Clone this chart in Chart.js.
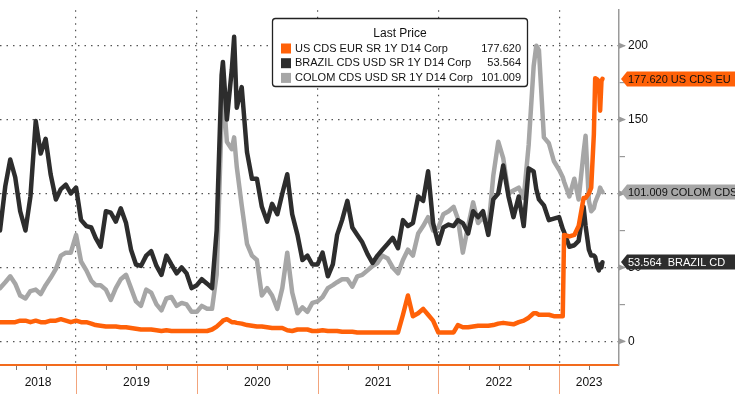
<!DOCTYPE html>
<html>
<head>
<meta charset="utf-8">
<script src="https://cdn.jsdelivr.net/npm/chart.js@4"></script>
<style>
html,body{margin:0;padding:0;background:#fff;}
#wrap{width:735px;height:394px;position:relative;}
</style>
</head>
<body>
<div id="wrap"><canvas id="c"></canvas></div>
<script>
// ---------- data ----------
const dates = [
'2018-05-16','2018-06-01','2018-06-16','2018-07-01','2018-07-16','2018-08-01','2018-08-16','2018-09-01','2018-09-16','2018-10-01','2018-10-16','2018-11-01','2018-11-16','2018-12-01','2018-12-16',
'2019-01-01','2019-01-16','2019-02-01','2019-02-16','2019-03-01','2019-03-16','2019-04-01','2019-04-16','2019-05-01','2019-05-16','2019-06-01','2019-06-16','2019-07-01','2019-07-16','2019-08-01','2019-08-16','2019-09-01','2019-09-16','2019-10-01','2019-10-16','2019-11-01','2019-11-16','2019-12-01','2019-12-16',
'2020-01-01','2020-01-16','2020-02-01','2020-02-16','2020-03-01','2020-03-16','2020-03-20','2020-04-01','2020-04-16','2020-04-23','2020-05-01','2020-05-16','2020-06-01','2020-06-16','2020-07-01','2020-07-16','2020-08-01','2020-08-16','2020-09-01','2020-09-16','2020-10-01','2020-10-16','2020-11-01','2020-11-16','2020-12-01','2020-12-16',
'2021-01-01','2021-01-16','2021-02-01','2021-02-16','2021-03-01','2021-03-16','2021-04-01','2021-04-16','2021-05-01','2021-05-16','2021-06-01','2021-06-16','2021-07-01','2021-07-16','2021-08-01','2021-08-16','2021-09-01','2021-09-16','2021-10-01','2021-10-16','2021-11-01','2021-11-16','2021-12-01','2021-12-16',
'2022-01-01','2022-01-16','2022-02-01','2022-02-16','2022-03-01','2022-03-16','2022-04-01','2022-04-16','2022-05-01','2022-05-16','2022-06-01','2022-06-16','2022-07-01','2022-07-16','2022-08-01','2022-08-16','2022-09-01','2022-09-16','2022-10-01','2022-10-16','2022-10-24','2022-11-01','2022-11-16','2022-12-01','2022-12-16',
'2023-01-01','2023-01-12','2023-01-16','2023-02-01','2023-02-16','2023-03-01','2023-03-16','2023-03-22','2023-04-01','2023-04-08','2023-04-16','2023-04-20','2023-04-27','2023-05-01','2023-05-05','2023-05-09','2023-05-12'
];

const usCds = [
13,13,13,13,14,14,13,14,13,13,14,14,15,14,13,
14,13,13,12,11,10.5,10,10,10,9.5,9.5,9,8.5,8,8,8,7.5,7,7.5,7,7,7,7,7,
7,7,7,8,10,13,14,15,13,13,12.5,12,11,10.5,10,10,9.5,9,9,9,7.5,7,8,8,8,7,
7,7.5,7,7,7,6.5,6.5,6.5,6,6,6,6,6,6,6,6,6,18,31,17,19,22,18,14,
6,6,6,6,11,9.5,9.5,10,10.5,10.5,10.5,11,12,12.5,12,11.5,13,14,16,19,19,18,18,18,17,
17,17,72,71,72,78,97,97,100,104,140,178,177,176,156,176,177.62
];

const brazilCds = [
75,105,123,111,88,75,98,149,127,137,113,96,103,106,100,
104,82,78,77,70,64,88,87,81,90,80,62,52,51,58,61,51,45,58,52,46,50,46,36,
38,42,39,36,75,180,189,150,184,206,158,172,128,110,110,91,81,93,86,100,113,86,72,55,58,52,
52,60,44,52,72,82,95,77,72,67,59,53,58,62,66,70,63,82,78,80,98,95,115,80,
66,77,79,78,82,80,73,88,84,88,72,96,100,119,98,84,98,78,117,115,103,96,92,82,83,
84,76,74,64,65,68,91,78,62,58,58,57,50,48,52,50,53.564
];

const colomCds = [
36,40,44,39,31,29,34,35,32,38,43,49,58,60,60,
72,54,48,41,38,38,35,28,36,42,45,36,27,24,35,33,25,21,29,30,24,26,25,20,
20,24,22,22,45,150,172,135,130,138,118,92,66,58,55,31,36,31,22,36,60,33,19,23,20,26,
27,30,36,38,40,42,42,37,44,45,48,51,53,58,56,50,46,55,62,58,73,78,84,75,
77,86,88,91,83,60,78,94,80,84,76,112,135,124,100,102,104,97,133,186,200,197,138,134,122,
116,111,108,98,110,96,128,139,95,88,90,94,98,100,104,102,101.009
];

const seriesNames = ['US CDS EUR SR 1Y D14 Corp', 'BRAZIL CDS USD SR 1Y D14 Corp', 'COLOM CDS USD SR 1Y D14 Corp'];
const tagNames = ['US CDS EU', 'BRAZIL CD', 'COLOM CDS'];
const legendTitle = 'Last Price';
const yearLabels = ['2018', '2019', '2020', '2021', '2022', '2023'];
const yTickValues = [0, 25, 50, 75, 100, 125, 150, 175, 200];
const xStart = '2018-05-16';
const xEnd = '2023-07-01';

// ---------- helpers ----------
function decYear(s) {
  const [y, m, d] = s.split('-').map(Number);
  const a = Date.UTC(y, 0, 1), b = Date.UTC(y + 1, 0, 1);
  return y + (Date.UTC(y, m - 1, d) - a) / (b - a);
}
const FONT = '"Liberation Sans", Arial, sans-serif';
const colors = ['#FF6108', '#2D2D2D', '#A6A6A6'];
const tagText = ['#111', '#fff', '#111'];
const seriesVals = [usCds, brazilCds, colomCds];
const xs = dates.map(decYear);
const toPts = arr => arr.map((v, i) => ({x: xs[i], y: v}));
const yearNums = yearLabels.map(Number);

const overlay = {
  id: 'overlay',
  afterDraw(chart) {
    const ctx = chart.ctx, ca = chart.chartArea;
    const xs_ = chart.scales.x, ys_ = chart.scales.y;
    const H = chart.height, W = chart.width;
    ctx.save();
    // year separators below axis
    ctx.strokeStyle = '#F2A47C'; ctx.lineWidth = 1;
    yearNums.forEach(yr => {
      if (yr <= xs_.min || yr >= xs_.max) return;
      const px = Math.round(xs_.getPixelForValue(yr)) + 0.5;
      ctx.beginPath(); ctx.moveTo(px, ca.bottom + 1); ctx.lineTo(px, H); ctx.stroke();
    });
    // quarter minor ticks
    ctx.strokeStyle = '#777';
    yearNums.forEach(yr => {
      [0.25, 0.5, 0.75].forEach(q => {
        const v = yr + q;
        if (v <= xs_.min || v >= xs_.max) return;
        const px = Math.round(xs_.getPixelForValue(v)) + 0.5;
        ctx.beginPath(); ctx.moveTo(px, ca.bottom + 1); ctx.lineTo(px, ca.bottom + 5); ctx.stroke();
      });
    });
    // year labels
    ctx.fillStyle = '#111'; ctx.font = '12px ' + FONT;
    ctx.textAlign = 'center'; ctx.textBaseline = 'middle';
    yearLabels.forEach((lab, i) => {
      const yr = yearNums[i];
      const l = Math.max(ca.left, xs_.getPixelForValue(yr));
      const r = Math.min(ca.right, xs_.getPixelForValue(yr + 1));
      ctx.fillText(lab, (l + r) / 2, ca.bottom + 18);
    });
    // arrowheads on major y ticks
    ctx.fillStyle = '#999';
    yTickValues.filter(v => v % 50 === 0).forEach(v => {
      const py = ys_.getPixelForValue(v);
      ctx.beginPath(); ctx.moveTo(ca.right, py - 3); ctx.lineTo(ca.right + 7, py); ctx.lineTo(ca.right, py + 3); ctx.closePath(); ctx.fill();
    });
    // value tags on the right
    [0, 2, 1].forEach(i => {
      const arr = seriesVals[i];
      const last = arr[arr.length - 1];
      const py = Math.round(ys_.getPixelForValue(last));
      const x0 = ca.right + 2, x1 = ca.right + 8, h = 7.5;
      ctx.fillStyle = colors[i];
      ctx.beginPath(); ctx.moveTo(x0, py); ctx.lineTo(x1, py - h); ctx.lineTo(W, py - h); ctx.lineTo(W, py + h); ctx.lineTo(x1, py + h); ctx.closePath(); ctx.fill();
      ctx.fillStyle = tagText[i]; ctx.font = '11px ' + FONT;
      ctx.textAlign = 'left'; ctx.textBaseline = 'middle';
      const sep = i === 1 ? '  ' : ' ';
      ctx.fillText(last.toFixed(3) + sep + tagNames[i], x1 + 1, py + 0.5);
    });
    // legend box
    const bx = 272.5, by = 18.5, bw = 255, bh = 68;
    ctx.fillStyle = '#fff'; ctx.strokeStyle = '#222'; ctx.lineWidth = 1.3;
    ctx.beginPath(); ctx.roundRect(bx, by, bw, bh, 3); ctx.fill(); ctx.stroke();
    ctx.fillStyle = '#111'; ctx.font = '12px ' + FONT; ctx.textBaseline = 'middle';
    ctx.textAlign = 'center'; ctx.fillText(legendTitle, 400, 34);
    ctx.font = '11px ' + FONT;
    seriesNames.forEach((name, i) => {
      const ry = 48.5 + i * 14.7;
      ctx.fillStyle = colors[i];
      ctx.fillRect(281, ry - 5, 10, 10);
      ctx.fillStyle = '#111';
      ctx.textAlign = 'left'; ctx.fillText(name, 295, ry);
      const arr = seriesVals[i];
      ctx.textAlign = 'right'; ctx.fillText(arr[arr.length - 1].toFixed(3), 521, ry);
    });
    ctx.restore();
  }
};

new Chart(document.getElementById('c'), {
  type: 'line',
  data: {
    datasets: seriesNames.map((n, i) => ({
      label: n,
      data: toPts(seriesVals[i]),
      borderColor: colors[i],
      backgroundColor: colors[i],
      borderWidth: 4.5,
      pointRadius: 0,
      tension: 0,
      borderJoinStyle: 'round',
      borderCapStyle: 'round'
    }))
  },
  options: {
    responsive: true,
    maintainAspectRatio: false,
    animation: false,
    layout: {padding: 0},
    plugins: {legend: {display: false}, tooltip: {enabled: false}},
    scales: {
      x: {
        type: 'linear',
        min: decYear(xStart),
        max: decYear(xEnd),
        afterBuildTicks: s => { s.ticks = yearNums.filter(v => v > s.min && v < s.max).map(v => ({value: v})); },
        afterFit: s => { s.height = 29; },
        ticks: {display: false},
        grid: {color: '#555', lineWidth: 1.2, drawTicks: false},
        border: {display: true, color: '#F26B1D', width: 2, dash: [1.5, 5]}
      },
      y: {
        position: 'right',
        min: -16,
        max: 224,
        afterBuildTicks: s => { s.ticks = yTickValues.map(v => ({value: v})); },
        afterFit: s => { s.width = 116; },
        ticks: {
          autoSkip: false,
          callback: v => (v % 50 === 0 ? String(v) : ''),
          color: '#111',
          font: {family: FONT, size: 12},
          padding: 3
        },
        grid: {
          color: c => (c.tick && c.tick.value % 50 === 0 ? '#555' : 'rgba(0,0,0,0)'),
          lineWidth: 1.2,
          tickColor: '#999',
          tickLength: 6
        },
        border: {color: '#9A9A9A', width: 1.5, dash: [1.5, 5]}
      }
    }
  },
  plugins: [overlay]
});
</script>
</body>
</html>
